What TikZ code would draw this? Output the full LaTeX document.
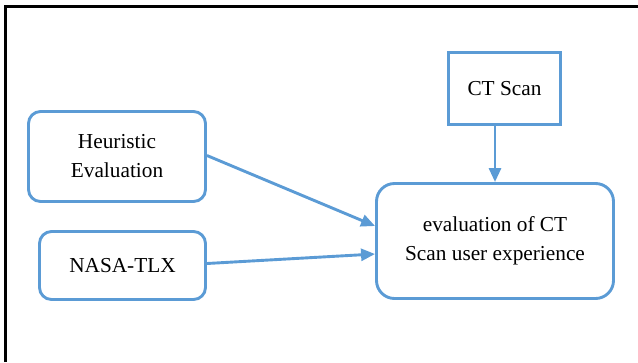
\documentclass[tikz,border=0pt]{standalone}
\usepackage{fontspec}
\setmainfont{Liberation Serif}
\usetikzlibrary{arrows.meta}
\definecolor{boxblue}{HTML}{5B9BD5}
\begin{document}
\begin{tikzpicture}[x=1bp,y=-1bp,
  box/.style={draw=boxblue,line width=2.9bp,align=center,inner sep=0pt,
    font=\fontsize{21.3bp}{29bp}\selectfont},
  conn/.style={draw=boxblue,line width=2.9bp,-{Triangle[length=14bp,width=12bp]}}]
\useasboundingbox (0,0) rectangle (638,362);
\draw[line width=2.2bp,black] (5.5,362) -- (5.5,6.5) -- (638,6.5);
\node[box,rounded corners=12bp,minimum width=177bp,minimum height=90bp] (heur) at (117,156.5) {Heuristic\\Evaluation};
\node[box,rounded corners=12bp,minimum width=166bp,minimum height=68bp] (nasa) at (122.5,265.5) {NASA-TLX};
\node[box,minimum width=112bp,minimum height=72bp] (ct) at (504.5,88.5) {CT Scan};
\node[box,rounded corners=18bp,minimum width=237bp,minimum height=115bp] (eval) at (495,241) {evaluation of CT\\Scan user experience};
\draw[conn] ([yshift=1bp]heur.east) -- ([yshift=15bp]eval.west);
\draw[conn] ([yshift=2bp]nasa.east) -- ([yshift=-13bp]eval.west);
\draw[conn] (ct.south -| eval.north) -- (eval.north);
\end{tikzpicture}
\end{document}
